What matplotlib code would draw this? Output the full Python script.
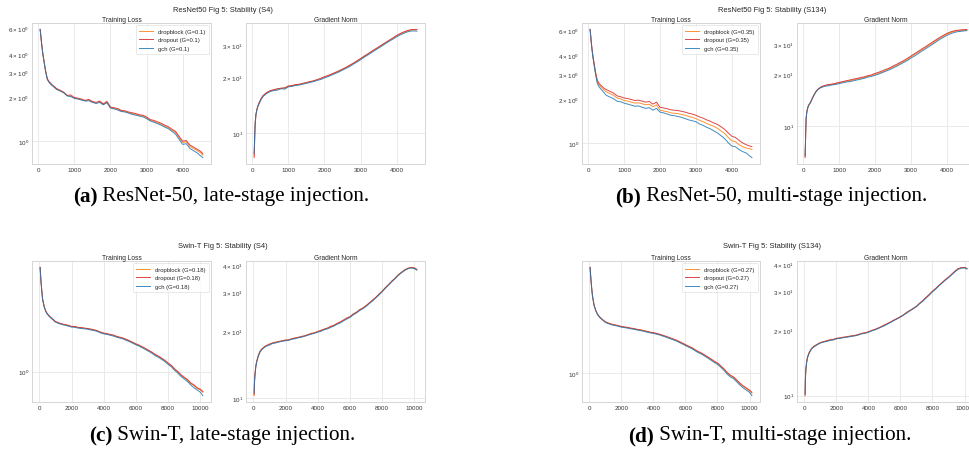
import matplotlib
matplotlib.use('Agg')
import matplotlib.pyplot as plt

W, H = 970, 464
plt.rcParams['font.family'] = ['Liberation Sans', 'DejaVu Sans']
plt.rcParams['mathtext.default'] = 'regular'

# ---------------- data ----------------
xr = [50, 60, 70, 80, 100, 125, 150, 200, 250, 300, 350, 400, 450,
      500, 600, 700, 800, 900, 1000, 1100, 1200, 1300, 1400, 1500, 1600, 1700, 1800, 1900,
      2000, 2100, 2200, 2300, 2400, 2500, 2600, 2700, 2800, 2900, 3000, 3100, 3200, 3300,
      3400, 3500, 3600, 3700, 3800, 3900, 4000, 4100, 4200, 4300, 4400, 4500, 4560]
xs = [50, 70, 100, 150, 200, 300, 400, 500, 600, 700, 800,
      1000, 1200, 1400, 1600, 1800, 2000, 2200, 2400, 2600, 2800, 3000, 3200, 3400, 3600,
      3800, 4000, 4200, 4400, 4600, 4800, 5000, 5200, 5400, 5600, 5800, 6000, 6200, 6400,
      6600, 6800, 7000, 7200, 7400, 7600, 7800, 8000, 8200, 8400, 8600, 8800, 9000, 9200,
      9400, 9600, 9800, 10000, 10150]

# (a) ResNet50 S4
a_loss_dropblock = [5.9, 5.6, 5.3, 5.0, 4.5, 4.0, 3.65, 3.05, 2.67, 2.55, 2.47, 2.41, 2.35,
    2.29, 2.23, 2.16, 2.06, 2.04, 1.98, 1.96, 1.93, 1.90, 1.92, 1.86, 1.83, 1.87, 1.79, 1.86,
    1.70, 1.68, 1.66, 1.61, 1.60, 1.57, 1.55, 1.53, 1.50, 1.49, 1.45, 1.39, 1.37, 1.34, 1.31,
    1.27, 1.24, 1.19, 1.15, 1.06, 0.98, 0.99, 0.92, 0.89, 0.86, 0.83, 0.80]
a_loss_dropout = [5.9, 5.6, 5.3, 5.0, 4.5, 4.0, 3.66, 3.06, 2.69, 2.57, 2.50, 2.42, 2.38,
    2.31, 2.25, 2.18, 2.07, 2.08, 2.00, 1.98, 1.95, 1.91, 1.94, 1.88, 1.85, 1.89, 1.81, 1.88,
    1.72, 1.70, 1.68, 1.63, 1.62, 1.59, 1.57, 1.55, 1.52, 1.51, 1.47, 1.41, 1.39, 1.36, 1.33,
    1.29, 1.26, 1.21, 1.17, 1.08, 1.00, 1.01, 0.94, 0.91, 0.88, 0.85, 0.82]
a_loss_gch = [5.9, 5.6, 5.3, 5.0, 4.5, 4.0, 3.64, 3.04, 2.66, 2.54, 2.46, 2.40, 2.34,
    2.28, 2.22, 2.16, 2.05, 2.03, 1.97, 1.95, 1.92, 1.89, 1.90, 1.85, 1.82, 1.85, 1.78, 1.84,
    1.69, 1.67, 1.64, 1.60, 1.59, 1.56, 1.53, 1.51, 1.49, 1.47, 1.43, 1.38, 1.35, 1.32, 1.29,
    1.25, 1.22, 1.17, 1.12, 1.03, 0.95, 0.96, 0.89, 0.86, 0.83, 0.79, 0.77]
a_grad_dropblock = [7.6, 8.7, 10.2, 11.4, 12.7, 13.4, 14.0, 14.7, 15.4, 15.9, 16.3, 16.5, 16.8,
    16.9, 17.1, 17.3, 17.5, 17.5, 17.9, 18.0, 18.3, 18.3, 18.5, 18.7, 19.0, 19.1, 19.4, 19.7,
    20.1, 20.4, 20.8, 21.2, 21.6, 22.1, 22.6, 23.2, 23.8, 24.5, 25.2, 25.9, 26.7, 27.5, 28.3,
    29.1, 29.9, 30.8, 31.7, 32.5, 33.5, 34.3, 35.0, 35.6, 36.0, 36.1, 36.1]
a_grad_dropout = [7.4, 8.5, 10.0, 11.3, 12.6, 13.4, 14.0, 14.8, 15.5, 16.0, 16.3, 16.6, 16.8,
    17.0, 17.2, 17.4, 17.5, 17.6, 18.0, 18.1, 18.3, 18.4, 18.6, 18.8, 19.0, 19.2, 19.5, 19.8,
    20.2, 20.5, 20.9, 21.3, 21.7, 22.2, 22.7, 23.3, 23.9, 24.6, 25.3, 26.1, 26.8, 27.6, 28.4,
    29.2, 30.1, 30.9, 31.8, 32.7, 33.7, 34.5, 35.2, 35.8, 36.2, 36.3, 36.3]
a_grad_gch = [7.8, 9.0, 10.4, 11.5, 12.6, 13.3, 13.9, 14.6, 15.3, 15.8, 16.1, 16.4, 16.6,
    16.8, 17.0, 17.1, 17.4, 17.3, 17.8, 17.9, 18.1, 18.2, 18.4, 18.6, 18.8, 19.0, 19.3, 19.5,
    19.9, 20.2, 20.6, 21.0, 21.4, 21.9, 22.4, 22.9, 23.6, 24.2, 24.9, 25.7, 26.4, 27.2, 28.0,
    28.8, 29.6, 30.5, 31.4, 32.2, 33.1, 33.9, 34.6, 35.2, 35.6, 35.6, 35.5]

# (b) ResNet50 S134
b_loss_dropblock = [6.05, 5.7, 5.35, 5.0, 4.5, 4.0, 3.65, 3.05, 2.66, 2.52, 2.44, 2.38, 2.31,
    2.26, 2.20, 2.14, 2.05, 2.02, 1.97, 1.95, 1.92, 1.89, 1.90, 1.87, 1.84, 1.86, 1.78, 1.84,
    1.69, 1.67, 1.65, 1.62, 1.61, 1.60, 1.58, 1.56, 1.53, 1.51, 1.48, 1.44, 1.41, 1.37, 1.34,
    1.31, 1.27, 1.22, 1.17, 1.10, 1.04, 1.03, 0.98, 0.95, 0.93, 0.92, 0.91]
b_loss_dropout = [6.05, 5.7, 5.35, 5.0, 4.5, 4.05, 3.7, 3.1, 2.72, 2.58, 2.50, 2.44, 2.38,
    2.34, 2.28, 2.22, 2.12, 2.09, 2.05, 2.03, 2.00, 1.97, 1.98, 1.95, 1.92, 1.94, 1.86, 1.92,
    1.77, 1.75, 1.73, 1.70, 1.69, 1.68, 1.66, 1.64, 1.61, 1.59, 1.56, 1.52, 1.49, 1.45, 1.42,
    1.38, 1.35, 1.30, 1.25, 1.18, 1.12, 1.10, 1.05, 1.01, 0.98, 0.96, 0.95]
b_loss_gch = [6.05, 5.7, 5.35, 5.0, 4.5, 3.95, 3.6, 3.0, 2.58, 2.44, 2.36, 2.29, 2.21,
    2.14, 2.08, 2.03, 1.95, 1.93, 1.89, 1.86, 1.83, 1.80, 1.81, 1.77, 1.74, 1.76, 1.69, 1.74,
    1.64, 1.62, 1.59, 1.56, 1.55, 1.53, 1.51, 1.48, 1.45, 1.43, 1.41, 1.36, 1.33, 1.29, 1.26,
    1.22, 1.18, 1.13, 1.08, 1.01, 0.96, 0.95, 0.91, 0.88, 0.86, 0.82, 0.80]
b_grad_dropblock = [6.7, 7.9, 9.7, 11.2, 12.2, 12.8, 13.3, 13.8, 14.5, 15.2, 15.9, 16.3, 16.7,
    16.9, 17.2, 17.4, 17.5, 17.7, 17.9, 18.1, 18.3, 18.4, 18.6, 18.8, 19.0, 19.2, 19.5, 19.7,
    20.0, 20.4, 20.7, 21.1, 21.6, 22.1, 22.6, 23.2, 23.8, 24.5, 25.3, 26.1, 26.9, 27.7, 28.6,
    29.5, 30.4, 31.4, 32.4, 33.3, 34.2, 34.9, 35.5, 35.8, 36.0, 36.1, 36.2]
b_grad_dropout = [6.6, 7.8, 9.6, 11.2, 12.2, 12.9, 13.3, 13.8, 14.6, 15.3, 15.9, 16.4, 16.7,
    17.0, 17.3, 17.5, 17.6, 17.8, 18.0, 18.2, 18.4, 18.6, 18.8, 19.0, 19.2, 19.4, 19.7, 19.9,
    20.3, 20.6, 21.0, 21.4, 21.8, 22.4, 22.9, 23.5, 24.1, 24.8, 25.6, 26.4, 27.2, 28.1, 28.9,
    29.9, 30.8, 31.8, 32.8, 33.7, 34.6, 35.3, 35.8, 36.1, 36.3, 36.4, 36.5]
b_grad_gch = [6.8, 8.0, 9.8, 11.2, 12.2, 12.8, 13.2, 13.7, 14.5, 15.2, 15.8, 16.3, 16.6,
    16.8, 17.1, 17.2, 17.4, 17.5, 17.7, 17.9, 18.1, 18.2, 18.4, 18.6, 18.8, 19.0, 19.3, 19.5,
    19.8, 20.1, 20.5, 20.9, 21.3, 21.8, 22.3, 22.9, 23.5, 24.1, 24.9, 25.6, 26.4, 27.3, 28.1,
    29.0, 29.9, 30.9, 31.9, 32.8, 33.7, 34.4, 35.0, 35.4, 35.6, 35.8, 35.9]

# (c) Swin-T S4
c_loss_dropblock = [6.9, 6.2, 5.4, 4.5, 3.85, 3.34, 3.06, 2.91, 2.81, 2.73, 2.66,
    2.52, 2.46, 2.41, 2.38, 2.34, 2.30, 2.30, 2.26, 2.25, 2.23, 2.21, 2.18, 2.16, 2.12,
    2.07, 2.03, 2.01, 1.98, 1.95, 1.91, 1.88, 1.85, 1.80, 1.76, 1.71, 1.66, 1.62, 1.57,
    1.52, 1.47, 1.42, 1.36, 1.32, 1.27, 1.22, 1.16, 1.11, 1.04, 0.99, 0.93, 0.89, 0.85,
    0.80, 0.77, 0.73, 0.71, 0.68]
c_loss_dropout = [6.9, 6.2, 5.4, 4.5, 3.85, 3.35, 3.07, 2.92, 2.82, 2.74, 2.67,
    2.53, 2.47, 2.42, 2.39, 2.36, 2.31, 2.31, 2.27, 2.26, 2.24, 2.22, 2.20, 2.17, 2.13,
    2.08, 2.04, 2.02, 1.99, 1.97, 1.92, 1.89, 1.86, 1.82, 1.77, 1.72, 1.67, 1.63, 1.58,
    1.53, 1.48, 1.43, 1.37, 1.33, 1.28, 1.23, 1.17, 1.12, 1.05, 1.00, 0.94, 0.90, 0.86,
    0.81, 0.78, 0.74, 0.72, 0.69]
c_loss_gch = [6.9, 6.2, 5.4, 4.5, 3.83, 3.32, 3.04, 2.89, 2.79, 2.71, 2.64,
    2.50, 2.44, 2.39, 2.36, 2.32, 2.28, 2.27, 2.24, 2.22, 2.21, 2.19, 2.16, 2.14, 2.10,
    2.05, 2.01, 1.99, 1.96, 1.93, 1.89, 1.86, 1.83, 1.78, 1.74, 1.69, 1.64, 1.60, 1.55,
    1.50, 1.45, 1.40, 1.34, 1.30, 1.25, 1.20, 1.14, 1.09, 1.02, 0.97, 0.91, 0.87, 0.83,
    0.78, 0.74, 0.71, 0.68, 0.64]
c_grad_dropblock = [10.3, 11.7, 12.7, 13.9, 14.6, 15.6, 16.3, 16.7, 16.8, 17.2, 17.3,
    17.5, 17.8, 18.0, 18.0, 18.2, 18.4, 18.3, 18.6, 18.8, 18.8, 19.1, 19.1, 19.4, 19.7,
    19.7, 20.1, 20.2, 20.6, 20.7, 21.2, 21.3, 21.8, 22.2, 22.5, 23.1, 23.3, 24.1, 24.4,
    25.2, 25.5, 26.3, 26.9, 27.8, 28.5, 29.6, 30.4, 31.7, 32.6, 33.9, 34.8, 36.2, 37.0,
    38.1, 38.6, 38.9, 38.7, 38.1]
c_grad_dropout = [10.4, 11.8, 12.8, 13.9, 14.6, 15.5, 16.2, 16.6, 16.9, 17.1, 17.3,
    17.6, 17.8, 17.9, 18.1, 18.2, 18.3, 18.4, 18.6, 18.7, 18.9, 19.0, 19.2, 19.4, 19.6,
    19.8, 20.0, 20.3, 20.5, 20.8, 21.1, 21.4, 21.8, 22.1, 22.6, 23.0, 23.4, 24.0, 24.5,
    25.1, 25.6, 26.2, 27.0, 27.7, 28.6, 29.5, 30.5, 31.6, 32.7, 33.8, 34.9, 36.1, 37.1,
    38.0, 38.7, 39.0, 38.8, 38.2]
c_grad_gch = [10.6, 11.9, 12.7, 13.8, 14.5, 15.4, 16.1, 16.5, 16.8, 17.0, 17.2,
    17.4, 17.7, 17.8, 18.0, 18.1, 18.2, 18.3, 18.5, 18.6, 18.8, 18.9, 19.1, 19.3, 19.5,
    19.7, 19.9, 20.1, 20.4, 20.6, 20.9, 21.2, 21.6, 21.9, 22.4, 22.8, 23.2, 23.8, 24.3,
    24.9, 25.4, 26.0, 26.8, 27.5, 28.4, 29.3, 30.3, 31.4, 32.5, 33.6, 34.7, 35.9, 36.9,
    37.8, 38.5, 38.8, 38.5, 37.9]

# (d) Swin-T S134
d_loss_dropblock = [6.9, 6.3, 5.6, 4.7, 4.1, 3.45, 3.15, 2.95, 2.83, 2.74, 2.67,
    2.54, 2.48, 2.43, 2.40, 2.37, 2.33, 2.31, 2.29, 2.26, 2.24, 2.21, 2.19, 2.16, 2.13,
    2.10, 2.08, 2.05, 2.02, 1.98, 1.94, 1.90, 1.86, 1.82, 1.77, 1.72, 1.67, 1.62, 1.58,
    1.52, 1.47, 1.43, 1.38, 1.33, 1.28, 1.23, 1.19, 1.13, 1.07, 1.00, 0.95, 0.92, 0.87,
    0.82, 0.78, 0.75, 0.72, 0.69]
d_loss_dropout = [6.9, 6.3, 5.6, 4.7, 4.1, 3.45, 3.15, 2.95, 2.83, 2.74, 2.67,
    2.55, 2.49, 2.44, 2.41, 2.38, 2.34, 2.32, 2.30, 2.27, 2.25, 2.22, 2.20, 2.17, 2.14,
    2.11, 2.09, 2.06, 2.03, 1.99, 1.95, 1.91, 1.87, 1.83, 1.78, 1.73, 1.68, 1.63, 1.59,
    1.53, 1.48, 1.44, 1.39, 1.34, 1.29, 1.24, 1.20, 1.14, 1.08, 1.01, 0.96, 0.93, 0.88,
    0.83, 0.79, 0.76, 0.73, 0.70]
d_loss_gch = [6.9, 6.3, 5.6, 4.7, 4.08, 3.43, 3.13, 2.93, 2.81, 2.72, 2.65,
    2.52, 2.46, 2.41, 2.38, 2.35, 2.31, 2.29, 2.27, 2.24, 2.22, 2.19, 2.17, 2.14, 2.11,
    2.08, 2.06, 2.03, 2.00, 1.96, 1.92, 1.88, 1.84, 1.80, 1.75, 1.70, 1.65, 1.60, 1.56,
    1.50, 1.45, 1.41, 1.36, 1.31, 1.26, 1.21, 1.17, 1.11, 1.05, 0.98, 0.93, 0.90, 0.85,
    0.80, 0.76, 0.73, 0.70, 0.66]
d_grad_dropblock = [10.1, 12.0, 13.2, 14.3, 15.0, 15.8, 16.2, 16.5, 16.9, 17.0, 17.1,
    17.5, 17.6, 17.9, 18.0, 18.0, 18.3, 18.3, 18.5, 18.5, 18.7, 18.8, 18.9, 19.0, 19.3,
    19.4, 19.6, 19.8, 20.1, 20.3, 20.7, 21.0, 21.4, 21.7, 22.2, 22.5, 23.0, 23.4, 24.1,
    24.5, 25.1, 25.6, 26.5, 27.2, 28.2, 29.0, 30.1, 30.9, 32.0, 32.9, 34.0, 34.8, 36.0,
    37.1, 38.1, 38.5, 38.6, 38.2]
d_grad_dropout = [10.0, 11.9, 13.3, 14.3, 15.0, 15.7, 16.2, 16.6, 16.8, 17.0, 17.2,
    17.5, 17.7, 17.8, 18.0, 18.1, 18.3, 18.4, 18.5, 18.6, 18.7, 18.8, 18.9, 19.1, 19.3,
    19.4, 19.6, 19.9, 20.1, 20.4, 20.7, 21.1, 21.4, 21.8, 22.2, 22.6, 23.0, 23.5, 24.1,
    24.6, 25.1, 25.7, 26.5, 27.3, 28.2, 29.1, 30.1, 31.0, 32.0, 33.0, 34.0, 34.9, 36.0,
    37.2, 38.2, 38.6, 38.7, 38.3]
d_grad_gch = [10.2, 12.1, 13.2, 14.2, 14.9, 15.6, 16.1, 16.5, 16.7, 16.9, 17.1,
    17.4, 17.6, 17.7, 17.9, 18.0, 18.2, 18.3, 18.4, 18.5, 18.6, 18.7, 18.8, 19.0, 19.2,
    19.3, 19.5, 19.8, 20.0, 20.3, 20.6, 20.9, 21.3, 21.7, 22.1, 22.5, 22.9, 23.4, 23.9,
    24.5, 25.0, 25.6, 26.4, 27.1, 28.0, 28.9, 29.9, 30.8, 31.8, 32.8, 33.8, 34.7, 35.8,
    36.9, 37.9, 38.4, 38.5, 38.0]

ticks_r = [0, 1000, 2000, 3000, 4000]
ticks_s = [0, 2000, 4000, 6000, 8000, 10000]

methods = ['dropblock', 'dropout', 'gch']
colors = {'dropblock': '#ff7f0e', 'dropout': '#d62728', 'gch': '#1f77b4'}

panels = [
    ('ResNet50 Fig 5: Stability (S4)', '0.1', xr, ticks_r,
     [a_loss_dropblock, a_loss_dropout, a_loss_gch], [a_grad_dropblock, a_grad_dropout, a_grad_gch],
     (32, 24, 211, 165), (246, 24, 425, 165), 223, 10),
    ('ResNet50 Fig 5: Stability (S134)', '0.35', xr, ticks_r,
     [b_loss_dropblock, b_loss_dropout, b_loss_gch], [b_grad_dropblock, b_grad_dropout, b_grad_gch],
     (582, 24, 760, 165), (797, 24, 975, 165), 772, 10),
    ('Swin-T Fig 5: Stability (S4)', '0.18', xs, ticks_s,
     [c_loss_dropblock, c_loss_dropout, c_loss_gch], [c_grad_dropblock, c_grad_dropout, c_grad_gch],
     (32, 262, 211, 403), (246, 262, 425, 403), 223, 247),
    ('Swin-T Fig 5: Stability (S134)', '0.27', xs, ticks_s,
     [d_loss_dropblock, d_loss_dropout, d_loss_gch], [d_grad_dropblock, d_grad_dropout, d_grad_gch],
     (582, 262, 760, 403), (797, 262, 975, 403), 772, 247),
]

captions = [
    ('(a)', ' ResNet-50, late-stage injection.', 221, 197),
    ('(b)', ' ResNet-50, multi-stage injection.', 771, 197),
    ('(c)', ' Swin-T, late-stage injection.', 222, 436),
    ('(d)', ' Swin-T, multi-stage injection.', 770, 436),
]

# ---------------- drawing ----------------
fig = plt.figure(figsize=(W / 100, H / 100), dpi=100)


def rect(l, t, r, b):
    return [l / W, 1 - b / H, (r - l) / W, (b - t) / H]


def style(ax, ticks, title):
    ax.set_yscale('log')
    ax.set_xticks(ticks)
    ax.set_facecolor('white')
    for s in ax.spines.values():
        s.set_color('#d6d6d6')
        s.set_linewidth(0.7)
    ax.grid(True, which='major', color='#e6e6e6', linewidth=0.6)
    ax.set_axisbelow(True)
    ax.tick_params(axis='both', which='both', length=0, labelsize=4.5,
                   labelcolor='#333333', pad=2.2)
    ax.set_title(title, fontsize=4.8, color='#262626', pad=1.8)


for (sup, g, x, ticks, losses, grads, lr, gr, tx, ty) in panels:
    axl = fig.add_axes(rect(*lr))
    axg = fig.add_axes(rect(*gr))
    for m, yl, yg in zip(methods, losses, grads):
        n1 = min(len(x), len(yl))
        n2 = min(len(x), len(yg))
        axl.plot(x[:n1], yl[:n1], color=colors[m], lw=0.7, alpha=0.85,
                 label=f'{m} (G={g})')
        axg.plot(x[:n2], yg[:n2], color=colors[m], lw=0.7, alpha=0.85)
    style(axl, ticks, 'Training Loss')
    style(axg, ticks, 'Gradient Norm')
    leg = axl.legend(loc='upper right', fontsize=4.2, frameon=True, fancybox=True,
                     borderpad=0.55, handlelength=2.4, handletextpad=0.9,
                     labelspacing=0.6, borderaxespad=0.4)
    leg.get_frame().set_edgecolor('#d9d9d9')
    leg.get_frame().set_linewidth(0.5)
    for t in leg.get_texts():
        t.set_color('#262626')
    fig.text(tx / W, 1 - ty / H, sup, ha='center', va='center', fontsize=5.4,
             color='#262626')

renderer = fig.canvas.get_renderer()
cap_size = 15.2
for bold, rest, cx, cy in captions:
    t1 = fig.text(0, 1 - cy / H, bold, fontweight='bold', fontsize=cap_size,
                  family=['Liberation Serif', 'DejaVu Serif'], va='center', ha='left')
    t2 = fig.text(0, 1 - cy / H, rest, fontsize=cap_size,
                  family=['Liberation Serif', 'DejaVu Serif'], va='center', ha='left')
    w1 = t1.get_window_extent(renderer).width
    w2 = t2.get_window_extent(renderer).width
    x0 = cx - (w1 + w2) / 2
    t1.set_x(x0 / W)
    t2.set_x((x0 + w1) / W)

fig.savefig('out.png', dpi=100, facecolor='white')
